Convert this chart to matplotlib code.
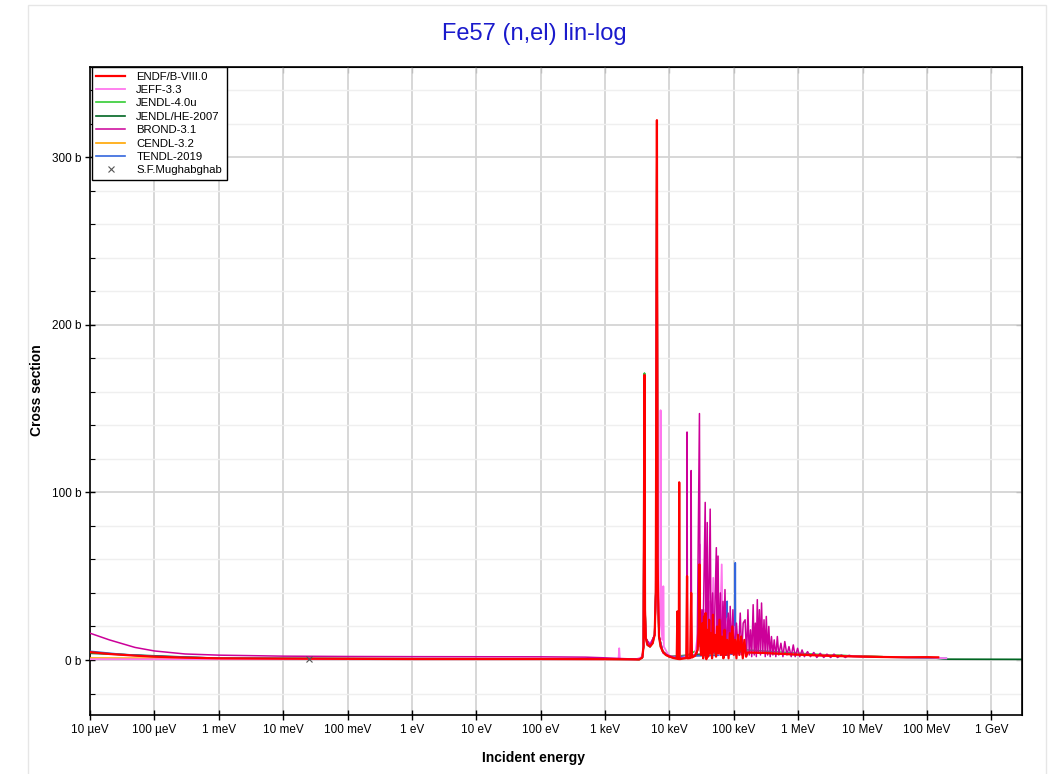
import numpy as np
import matplotlib.pyplot as plt
from matplotlib.patches import Rectangle
from matplotlib.ticker import FixedLocator, MultipleLocator, NullLocator

plt.rcParams['font.family'] = ['Liberation Sans', 'DejaVu Sans']

# (energy in eV, cross section in b)
endf = [(1e-5, 4.7), (2e-5, 3.6), (5e-5, 2.6), (1e-4, 2.0), (3e-4, 1.4), (1e-3, 1.0),
        (1e-2, 0.8), (0.1, 0.7), (1, 0.6), (100, 0.6), (1000, 0.5), (2500, 0.4),
        (3400, 0.3), (3800, 1.5), (3960, 8), (4100, 170), (4180, 30), (4300, 13),
        (4550, 9), (5000, 8), (5500, 10), (5900, 15), (6150, 40), (6400, 322),
        (6550, 60), (6700, 36), (6900, 14), (7300, 8), (7900, 5), (8800, 3),
        (10000, 2), (11500, 1.2), (13000, 0.8), (13300, 29), (13600, 0.6), (14000, 0.6),
        (14200, 106), (14400, 0.5), (16000, 0.8), (18300, 1.2), (18800, 50), (19200, 1.0),
        (21000, 1.2), (21800, 40), (22400, 1.5), (25000, 2.5), (27500, 6), (28700, 20),
        (29300, 57), (30000, 12), (31000, 3), (32500, 22), (33500, 1), (34500, 26),
        (35500, 3), (36500, 28), (37500, 0.5), (38800, 18), (40000, 2), (41500, 24),
        (43000, 4), (44500, 16), (46000, 1), (47500, 27), (49000, 5), (51000, 15),
        (53000, 2), (55000, 20), (57500, 4), (60000, 24), (63000, 3), (66000, 14),
        (69000, 1), (72000, 18), (75000, 3), (79000, 12), (83000, 1), (87000, 16),
        (91000, 4), (95000, 20), (100000, 3), (105000, 12), (110000, 1), (116000, 15),
        (122000, 3), (130000, 14), (138000, 1), (146000, 12), (155000, 2), (165000, 4.5),
        (300000, 4.2), (1e6, 3.2), (3e6, 2.5), (1e7, 2.0), (2e7, 1.8), (5e7, 1.6),
        (1e8, 1.7), (1.5e8, 1.6)]

jeff = [(1e-5, 0.5), (1e-3, 0.5), (1, 0.5), (1000, 0.5), (1620, 0.5), (1660, 7),
        (1700, 0.5), (3000, 0.3), (3800, 2), (3960, 10), (4100, 165), (4180, 28),
        (4300, 13), (4550, 10), (5500, 11), (5900, 15), (6150, 40), (6400, 300),
        (6550, 60), (6700, 36), (6900, 20), (7200, 22), (7300, 149), (7420, 20),
        (7800, 12), (7950, 14), (8050, 44), (8200, 8), (10000, 2), (14000, 1),
        (14200, 60), (14400, 1), (25000, 3), (28700, 20), (29500, 69), (30500, 5),
        (36000, 30), (38000, 3), (43000, 35), (45000, 4), (48000, 49), (50000, 6),
        (56000, 30), (60000, 3), (65000, 57), (68000, 4), (80000, 25), (85000, 3),
        (100000, 20), (110000, 3), (170000, 4.8), (1e6, 3.3), (1e7, 2.0), (1e8, 1.6),
        (2e8, 1.0)]

jendl40 = [(1e-5, 4.5), (1e-4, 2.0), (1e-3, 1.0), (1, 0.6), (1000, 0.5), (3400, 0.4),
           (3800, 1.5), (3960, 8), (4100, 171), (4180, 30), (4300, 13), (4550, 9),
           (5000, 8), (5500, 10), (5900, 15), (6150, 40), (6400, 321), (6550, 60),
           (6700, 36), (6900, 14), (7300, 8), (7900, 5), (8800, 3), (10000, 2),
           (13000, 0.8), (14000, 0.6), (14200, 100), (14400, 0.5), (27500, 6),
           (28700, 20), (29300, 55), (30000, 12), (31000, 3), (45000, 3), (100000, 5),
           (160000, 6), (1e6, 4.0), (3e6, 3.0), (1e7, 2.2), (2e7, 2.0)]

jendlhe = [(1e-5, 4.0), (1e-3, 1.0), (1000, 0.6), (3400, 0.4), (3800, 1.5),
           (3960, 8), (4100, 171), (4180, 30), (4300, 13), (5000, 8), (5900, 15),
           (6150, 40), (6400, 320), (6550, 60), (6700, 36), (6900, 14), (7900, 5),
           (10000, 2), (100000, 5), (1e6, 3.4), (2e7, 1.9), (1e8, 1.6), (1.5e8, 1.0),
           (2e8, 0.5), (3e9, 0.4)]

brond = [(1e-5, 16), (2e-5, 12), (5e-5, 7.5), (1e-4, 5.4), (3e-4, 3.6), (1e-3, 2.9),
         (1e-2, 2.3), (0.1, 2.1), (1, 2.0), (100, 1.9), (500, 1.7), (1000, 1.3),
         (2000, 0.8), (3400, 0.5), (3800, 1.5), (3960, 8), (4100, 168), (4180, 28),
         (4300, 13), (5000, 9), (5900, 15), (6150, 40), (6420, 318), (6580, 55),
         (6750, 30), (6900, 14), (8000, 4), (12000, 1.5), (18500, 1),
         (18800, 136), (19100, 1), (21500, 1.5), (21800, 113), (22100, 1.5), (27000, 4),
         (29300, 147), (30000, 8), (32000, 30), (33000, 3), (36000, 94), (37000, 5),
         (38700, 82), (40000, 4), (43000, 90), (44500, 6), (47000, 40), (49000, 4),
         (53600, 67), (55000, 5), (57000, 62), (59000, 6), (62000, 40), (64000, 4),
         (68000, 35), (70000, 6), (73000, 42), (76000, 5), (82000, 28), (86000, 4),
         (88000, 32), (92000, 6), (97000, 30), (102000, 5), (110000, 22), (118000, 4),
         (126000, 28), (133000, 3), (140000, 22), (150000, 24), (158000, 2), (166000, 30),
         (174000, 3), (182000, 18), (190000, 2), (200000, 33), (208000, 3), (216000, 22),
         (224000, 2), (232000, 36), (240000, 4), (250000, 30), (260000, 3), (270000, 34),
         (282000, 4), (295000, 24), (308000, 2), (320000, 26), (335000, 3), (350000, 20),
         (368000, 2), (385000, 14), (405000, 3), (425000, 12), (450000, 2), (475000, 14),
         (500000, 3), (540000, 10), (580000, 2), (620000, 11), (670000, 3), (720000, 8),
         (780000, 2), (840000, 9), (900000, 2), (980000, 7), (1.06e6, 2), (1.15e6, 6),
         (1.25e6, 2), (1.4e6, 5), (1.55e6, 2), (1.75e6, 4.5), (1.95e6, 1.5), (2.2e6, 4),
         (2.5e6, 1.5), (2.8e6, 3.5), (3.2e6, 1.5), (3.6e6, 3.5), (4.1e6, 1.5), (4.7e6, 3),
         (5.4e6, 1.5), (6.2e6, 2.8), (7e6, 2.2), (2e7, 1.9)]

cendl = [(1e-5, 1.2), (1e-3, 0.9), (1000, 0.5), (3400, 0.4), (3800, 1.5), (3960, 8),
         (4100, 166), (4180, 30), (4300, 13), (5000, 8), (5900, 15), (6150, 40),
         (6400, 315), (6550, 60), (6700, 36), (6900, 14), (7900, 5), (10000, 2),
         (47500, 3), (48000, 25), (48500, 3), (104000, 4), (105000, 46), (106000, 4),
         (170000, 4.6), (1e6, 3.2), (2e7, 1.9)]

tendl = [(1e-5, 5.2), (3e-5, 3.4), (1e-4, 2.2), (1e-3, 1.1), (1, 0.6), (1000, 0.5),
         (3400, 0.4), (3800, 1.5), (3960, 8), (4100, 168), (4180, 30), (4300, 13),
         (5000, 8), (5900, 15), (6150, 40), (6400, 318), (6550, 60), (6700, 36),
         (6900, 14), (7900, 5), (10000, 2), (78500, 3), (79000, 35), (79500, 3),
         (104500, 4), (105500, 58), (106500, 4), (170000, 4.6), (1e6, 3.2), (1e7, 2.0),
         (2e8, 1.0)]

mughabghab_e = [0.0253]
mughabghab_xs = [0.6]

tick_pos = [1e-5, 1e-4, 1e-3, 1e-2, 1e-1, 1, 10, 100, 1e3, 1e4, 1e5, 1e6, 1e7, 1e8, 1e9]
tick_labels = ['10 µeV', '100 µeV', '1 meV', '10 meV', '100 meV', '1 eV', '10 eV',
               '100 eV', '1 keV', '10 keV', '100 keV', '1 MeV', '10 MeV', '100 MeV', '1 GeV']
ytick_pos = [0, 100, 200, 300]
ytick_labels = ['0 b', '100 b', '200 b', '300 b']

series = [
    ('ENDF/B-VIII.0', endf, '#ff0000', 1.6, 9),
    ('JEFF-3.3', jeff, '#ff77ee', 1.3, 6),
    ('JENDL-4.0u', jendl40, '#33cc33', 1.2, 3),
    ('JENDL/HE-2007', jendlhe, '#006622', 1.2, 2),
    ('BROND-3.1', brond, '#cc0099', 1.1, 7),
    ('CENDL-3.2', cendl, '#ffa500', 1.2, 4),
    ('TENDL-2019', tendl, '#3366dd', 1.2, 5),
]

fig = plt.figure(figsize=(10.49, 7.74), dpi=100)
fig.patches.append(Rectangle((28 / 1049, -0.01), 1018 / 1049, 0.9935 + 0.01,
                             transform=fig.transFigure, fill=False,
                             edgecolor='#e6e6e6', lw=1))
ax = fig.add_axes([90 / 1049, 59 / 774, 932 / 1049, 648 / 774])

handles = []
for name, pts, col, lw, z in series:
    e, xs = zip(*pts)
    h, = ax.plot(e, xs, color=col, lw=lw, zorder=z, label=name)
    handles.append(h)
hm, = ax.plot(mughabghab_e, mughabghab_xs, ls='none', marker='x', ms=5,
              mew=0.8, color='#555555', zorder=10, label='S.F.Mughabghab')
handles.append(hm)

ax.set_xscale('log')
ax.set_xlim(1e-5, 3e9)
ax.set_ylim(-32.8, 353.7)
ax.xaxis.set_major_locator(FixedLocator(tick_pos))
ax.set_xticklabels(tick_labels)
ax.xaxis.set_minor_locator(NullLocator())
ax.yaxis.set_major_locator(FixedLocator(ytick_pos))
ax.set_yticklabels(ytick_labels)
ax.yaxis.set_minor_locator(MultipleLocator(20))
ax.tick_params(which='major', direction='inout', length=6.5, width=1, labelsize=8.5, pad=3)
ax.tick_params(which='minor', direction='in', length=3.5, width=0.8)
ax.grid(which='major', color='#d4d4d4', lw=1.3)
ax.grid(which='minor', axis='y', color='#efefef', lw=1)
ax.set_axisbelow(True)
for s in ax.spines.values():
    s.set_linewidth(1.2)

top = ax.secondary_xaxis('top')
top.xaxis.set_major_locator(FixedLocator(tick_pos))
top.xaxis.set_minor_locator(NullLocator())
top.tick_params(direction='in', length=4, labeltop=False)
right = ax.secondary_yaxis('right')
right.yaxis.set_major_locator(FixedLocator(ytick_pos))
right.yaxis.set_minor_locator(MultipleLocator(20))
right.tick_params(which='both', direction='in', length=4, labelright=False)

leg = ax.legend(handles=handles, loc='upper left', bbox_to_anchor=(0.002, 1.0),
                borderaxespad=0, fontsize=8.2, handlelength=2.5, handletextpad=1.0,
                labelspacing=0.3, fancybox=False, framealpha=1, edgecolor='black')
leg.get_frame().set_linewidth(1)
leg.set_zorder(20)

fig.text(534 / 1049, 1 - 34 / 774, 'Fe57 (n,el) lin-log', color='#1a1acc',
         fontsize=17, ha='center', va='center')
fig.text(534 / 1049, 1 - 758 / 774, 'Incident energy', fontsize=10,
         fontweight='bold', ha='center', va='center')
fig.text(37 / 1049, 1 - 390 / 774, 'Cross section', fontsize=10,
         fontweight='bold', ha='center', va='center', rotation=90)

fig.savefig('out.png', dpi=100)
